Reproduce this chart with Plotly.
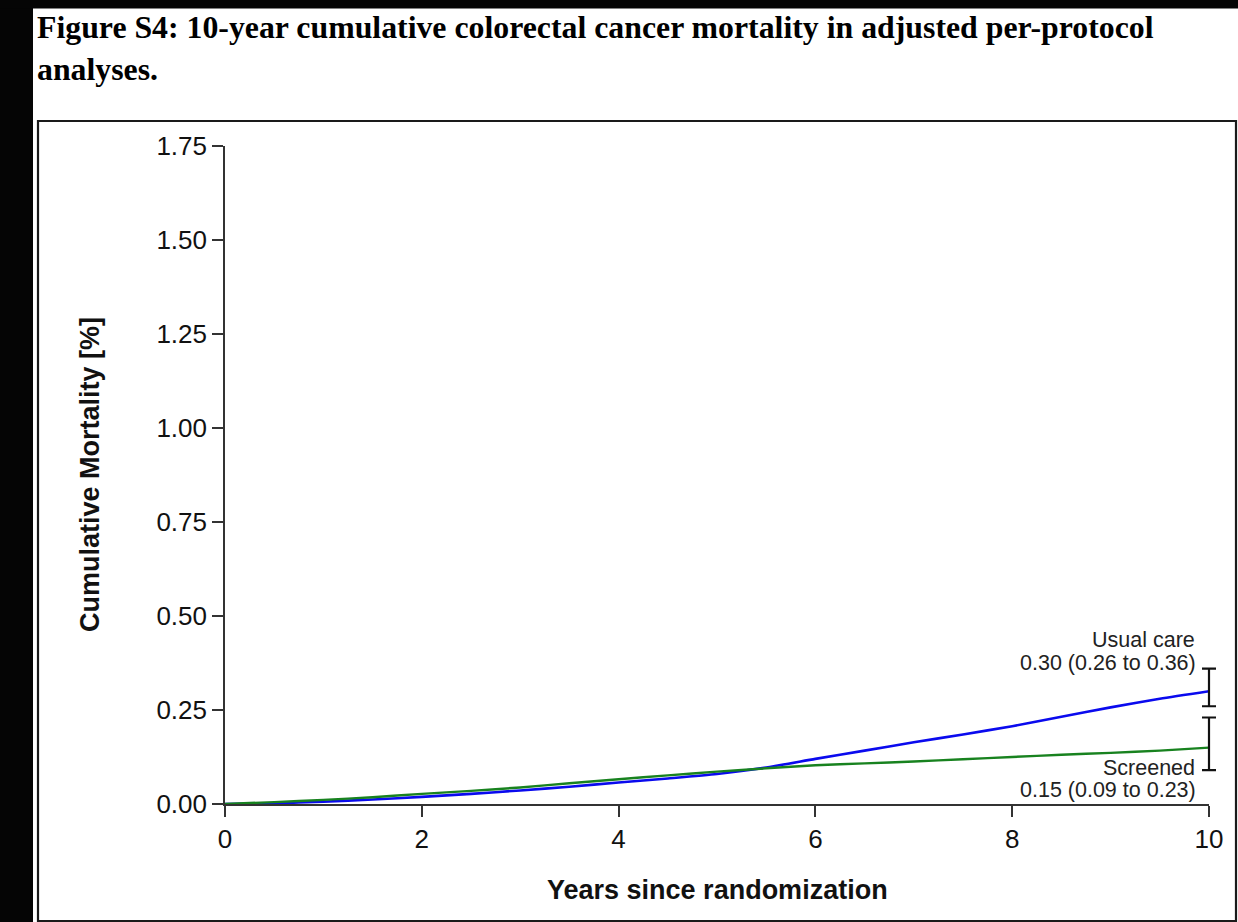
import plotly.graph_objects as go

# Cumulative colorectal cancer mortality (%) by years since randomization
years = [0, 0.5, 1, 1.5, 2, 2.5, 3, 3.5, 4, 4.5, 5, 5.5, 6, 6.5, 7, 7.5, 8, 8.5, 9, 9.5, 10]
usual_care = [0, 0.002, 0.006, 0.012, 0.019, 0.027, 0.036, 0.046, 0.057, 0.068, 0.080,
              0.097, 0.120, 0.142, 0.164, 0.185, 0.207, 0.232, 0.257, 0.280, 0.30]
screened = [0, 0.005, 0.011, 0.018, 0.027, 0.035, 0.044, 0.055, 0.066, 0.076, 0.086,
            0.095, 0.103, 0.108, 0.113, 0.119, 0.125, 0.131, 0.136, 0.142, 0.15]

# 10-year estimates with 95% confidence limits
usual_est, usual_lo, usual_hi = 0.30, 0.26, 0.36
scr_est, scr_lo, scr_hi = 0.15, 0.09, 0.23

x_ticks = [0, 2, 4, 6, 8, 10]
y_ticks = [0, 0.25, 0.5, 0.75, 1.0, 1.25, 1.5, 1.75]

W, H = 1238, 922
L, R, T, B = 225, 9, 146, 118
PW, PH = W - L - R, H - T - B
AXIS_W = 984                      # pixel length of the x axis (0 to 10)
dom_frac = AXIS_W / PW
x_min, x_max = 0, 10


def px(xp):
    return (xp - L) / PW


def py(yp):
    return (H - B - yp) / PH


fig = go.Figure()

fig.add_trace(go.Scatter(x=years, y=usual_care, mode="lines",
                         line=dict(color="#0a0aee", width=2.6, shape="spline", smoothing=0.6),
                         showlegend=False))
fig.add_trace(go.Scatter(x=years, y=screened, mode="lines",
                         line=dict(color="#18821f", width=2.4, shape="spline", smoothing=0.6),
                         showlegend=False))

# confidence interval bars at year 10, on a hidden axis with the same scale
# whose area reaches a little past the end of the visible axis
for est, lo, hi in [(usual_est, usual_lo, usual_hi), (scr_est, scr_lo, scr_hi)]:
    fig.add_trace(go.Scatter(
        x=[years[-1]], y=[est], mode="markers", xaxis="x2", yaxis="y",
        marker=dict(size=1, color="rgba(0,0,0,0)"),
        error_y=dict(type="data", symmetric=False, array=[hi - est], arrayminus=[est - lo],
                     color="#111111", thickness=2.2, width=7),
        cliponaxis=False, showlegend=False))

lab_font = dict(family="Liberation Sans, Arial, sans-serif", size=21.5, color="#222222")
fig.add_annotation(x=years[-1], y=usual_hi, text="Usual care", showarrow=False,
                   xanchor="right", yanchor="middle", xshift=-12, yshift=29, font=lab_font)
fig.add_annotation(x=years[-1], y=usual_hi,
                   text=f"{usual_est:.2f} ({usual_lo:.2f} to {usual_hi:.2f})", showarrow=False,
                   xanchor="right", yanchor="middle", xshift=-11, yshift=6, font=lab_font)
fig.add_annotation(x=years[-1], y=scr_lo, text="Screened", showarrow=False,
                   xanchor="right", yanchor="middle", xshift=-12, yshift=2, font=lab_font)
fig.add_annotation(x=years[-1], y=scr_lo,
                   text=f"{scr_est:.2f} ({scr_lo:.2f} to {scr_hi:.2f})", showarrow=False,
                   xanchor="right", yanchor="middle", xshift=-11, yshift=-20, font=lab_font)

# axis titles
ttl_font = dict(family="Liberation Sans, Arial, sans-serif", size=27, color="#111111")
fig.add_annotation(xref="paper", yref="paper", x=px(717), y=py(890),
                   text="<b>Years since randomization</b>", showarrow=False,
                   xanchor="center", yanchor="middle", font=ttl_font)
fig.add_annotation(xref="paper", yref="paper", x=px(90), y=py(475),
                   text="<b>Cumulative Mortality [%]</b>", showarrow=False, textangle=-90,
                   xanchor="center", yanchor="middle", font=ttl_font)

# figure caption
cap_font = dict(family="Liberation Serif, Times New Roman, serif", size=31.8, color="#000000")
fig.add_annotation(xref="paper", yref="paper", x=px(35), y=py(28),
                   text="<b>Figure S4: 10-year cumulative colorectal cancer mortality in adjusted per-protocol</b>",
                   showarrow=False, xanchor="left", yanchor="middle", font=cap_font)
fig.add_annotation(xref="paper", yref="paper", x=px(35), y=py(69),
                   text="<b>analyses.</b>", showarrow=False,
                   xanchor="left", yanchor="middle", font=cap_font)

# page edges and the frame around the chart
fig.add_shape(type="rect", xref="paper", yref="paper", x0=px(0), x1=px(33), y0=py(H), y1=py(0),
              fillcolor="#050505", line=dict(width=0), layer="below")
fig.add_shape(type="rect", xref="paper", yref="paper", x0=px(0), x1=px(W), y0=py(8.5), y1=py(0),
              fillcolor="#050505", line=dict(width=0), layer="below")
fig.add_shape(type="rect", xref="paper", yref="paper", x0=px(38), x1=px(1236), y0=py(921), y1=py(121),
              fillcolor="rgba(0,0,0,0)", line=dict(color="#1a1a1a", width=2.2), layer="below")

tick_font = dict(family="Liberation Sans, Arial, sans-serif", size=26, color="#111111")
fig.update_layout(
    xaxis=dict(domain=[0, dom_frac], range=[x_min, x_max], tickvals=x_ticks,
               ticktext=[str(v) for v in x_ticks], automargin=False,
               showline=True, linecolor="#333333", linewidth=1.6, ticks="outside",
               ticklen=11, tickwidth=1.6, tickcolor="#333333", showgrid=False,
               zeroline=False, tickfont=tick_font, fixedrange=True),
    xaxis2=dict(domain=[0, 1], range=[x_min, x_min + (x_max - x_min) / dom_frac],
                anchor="y", visible=False, fixedrange=True, automargin=False),
    yaxis=dict(range=[0, 1.75], tickvals=y_ticks, ticktext=[f"{v:.2f}" for v in y_ticks],
               automargin=False,
               showline=True, linecolor="#333333", linewidth=1.6, ticks="outside",
               ticklen=11, tickwidth=1.6, tickcolor="#333333", showgrid=False,
               zeroline=False, tickfont=tick_font, fixedrange=True),
    width=W, height=H, margin=dict(l=L, r=R, t=T, b=B, pad=0, autoexpand=False),
    paper_bgcolor="white", plot_bgcolor="rgba(0,0,0,0)", showlegend=False)

fig.write_html("out.html", config={"displayModeBar": False})
